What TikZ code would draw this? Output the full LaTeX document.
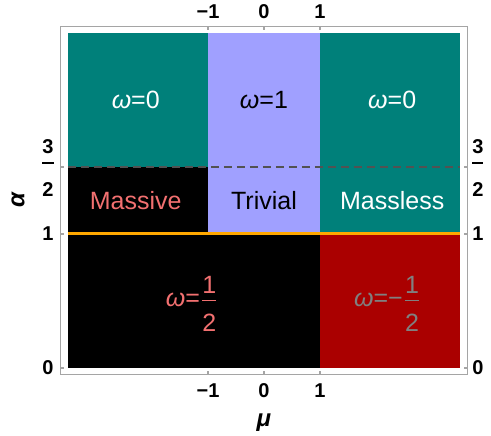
\documentclass[tikz,border=0pt]{standalone}
\usepackage{amsmath}
\usepackage{fontspec}
\setmainfont{Liberation Sans}
\definecolor{tealreg}{RGB}{0,128,122}
\definecolor{lavreg}{RGB}{160,160,255}
\definecolor{redreg}{RGB}{170,0,0}
\definecolor{salmon}{RGB}{242,112,112}
\definecolor{framegray}{RGB}{165,165,165}
\definecolor{orangeline}{RGB}{255,168,0}
\newcommand{\vfrac}[4]{$\genfrac{}{}{0.8pt}{1}{\mbox{#1}\rule[-#3]{0pt}{#3}}{\mbox{#2}\rule{0pt}{#4}}$}
\newcommand{\om}{\textit{ω}}

\begin{document}
\begin{tikzpicture}[x=28pt,y=67pt,font=\fontsize{12.5}{15}\selectfont,
	tick/.style={font=\bfseries\fontsize{10}{12}\selectfont,inner sep=0pt},
	axlab/.style={font=\bfseries\itshape\fontsize{12}{14}\selectfont},
	frame/.style={draw=framegray,line width=0.6pt}]
				\useasboundingbox(-4.714,-0.507)rectangle(4.054,2.746);
				\fill[tealreg](-3.5,1.5)rectangle(-1,2.5);
				\fill[lavreg](-1,1)rectangle(1,2.5);
				\fill[tealreg](1,1)rectangle(3.5,2.5);
				\fill[black](-3.5,1)rectangle(-1,1.5);
				\fill[black](-3.5,0)rectangle(1,1);
				\fill[redreg](1,0)rectangle(3.5,1);
				\draw[dash pattern=on 4pt off 2.5pt,draw=black!68,line width=0.8pt](-3.5,1.5)--(3.5,1.5);
				\draw[orangeline,line width=1.5pt](-3.5,1)--(3.5,1);
				\draw[frame](-3.64,-0.05)rectangle(3.64,2.55);
				\foreach \m/\t/\n in {-1/−1/a,0/0/b,1/1/c}{
					\draw[frame](\m,-0.05)--++(0,0.027);
					\draw[frame](\m,2.55)--++(0,-0.027);
					\node[tick](bot\n) at (\m,-0.172){\t};
					\node[tick](top\n) at (\m,2.657){\t};
				}
				\foreach \a/\n in {0/a,1/b}{
					\node[tick](lft\n) at (-3.857,\a){\a};
					\node[tick](rgt\n) at (3.82,\a){\a};
				}
				\foreach \a in {0,1,1.5}{
					\draw[frame](-3.64,\a)--++(0.064,0);
					\draw[frame](3.64,\a)--++(-0.064,0);
				}
				\node[tick,anchor=base](lftc) at (-3.857,1.494){\vfrac{3}{2}{3.5pt}{15.5pt}};
				\node[tick,anchor=base](rgtc) at (3.82,1.494){\vfrac{3}{2}{3.5pt}{15.5pt}};
				\node[axlab](mulab) at (0,-0.41){μ};
				\node[axlab,rotate=90](alab) at (-4.39,1.25){α};
				\node[white](w0l) at (-2.29,2){\om=0};
				\node[black](w1) at (0,2){\om=1};
				\node[white](w0r) at (2.29,2){\om=0};
				\node[salmon](massive) at (-2.29,1.25){Massive};
				\node[black](trivial) at (0,1.25){Trivial};
				\node[white](massless) at (2.29,1.25){Massless};
				\node[salmon,anchor=base](whalf) at (-1.28,0.46){\om=\vfrac{1}{2}{2.3pt}{14.3pt}};
				\node[gray,anchor=base](wmhalf) at (2.21,0.46){\om=−\vfrac{1}{2}{2.3pt}{14.3pt}};
				\end{tikzpicture}
\end{document}
